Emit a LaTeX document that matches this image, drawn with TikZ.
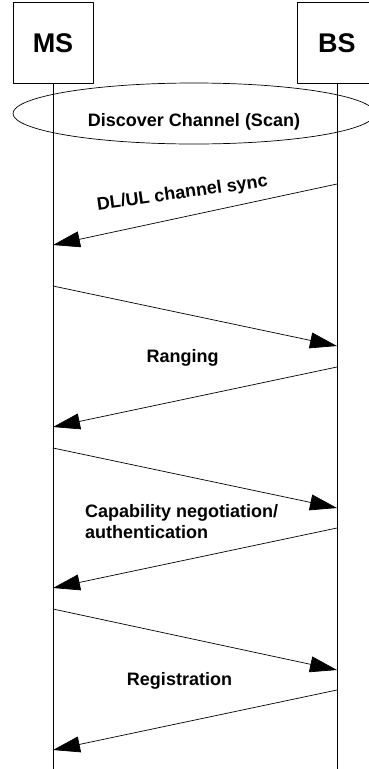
\documentclass[tikz,border=0pt]{standalone}
\usepackage{fontspec}
\setmainfont{Liberation Sans}
\usetikzlibrary{arrows.meta}

\begin{document}
\begin{tikzpicture}[line cap=round,line join=round,x=1pt,y=-1pt,
    msg/.style={line width=0.7pt,-{Triangle[length=27pt,width=16pt]}},
    lbl/.style={font=\fontsize{18}{20.5}\selectfont\bfseries,inner sep=0pt}]
    \useasboundingbox (0,0) rectangle (368,769);
    % the two stations
    \node[draw,line width=0.7pt,minimum width=80pt,minimum height=80.5pt,
        font=\fontsize{27}{30}\selectfont\bfseries] (ms) at (53,42.75) {MS};
    \node[draw,line width=0.7pt,minimum width=80pt,minimum height=80.5pt,
        font=\fontsize{27}{30}\selectfont\bfseries] (bs) at (337,42.75) {BS};
    \coordinate (msend) at (53,769);
    \coordinate (bsend) at (337,769);
    \draw [line width=0.7pt] (ms.south) -- (msend);
    \draw [line width=0.7pt] (bs.south) -- (bsend);
    % scan phase
    \draw [line width=0.7pt] (194,113.5) ellipse (181 and 30.5);
    \node[lbl,anchor=base] (scan) at (194,126) {Discover Channel (Scan)};
    % points on the MS line
    \coordinate (a1) at (53,245);
    \coordinate (a2) at (53,286);
    \coordinate (a3) at (53,427);
    \coordinate (a4) at (53,448);
    \coordinate (a5) at (53,588);
    \coordinate (a6) at (53,609);
    \coordinate (a7) at (53,750);
    % points on the BS line
    \coordinate (b1) at (337,184);
    \coordinate (b2) at (337,346);
    \coordinate (b3) at (337,367);
    \coordinate (b4) at (337,508);
    \coordinate (b5) at (337,528);
    \coordinate (b6) at (337,670);
    \coordinate (b7) at (337,690);
    % messages
    \draw [msg] (b1) -- (a1);
    \draw [msg] (a2) -- (b2);
    \draw [msg] (b3) -- (a3);
    \draw [msg] (a4) -- (b4);
    \draw [msg] (b5) -- (a5);
    \draw [msg] (a6) -- (b6);
    \draw [msg] (b7) -- (a7);
    % labels
    \node[lbl,anchor=base,rotate=8] (sync) at (183,198.3) {DL/UL channel sync};
    \node[lbl,anchor=base] (ranging) at (182.5,362.7) {Ranging};
    \node[lbl,anchor=north west,align=left] (capab) at (85,504.5) {Capability negotiation/\\authentication};
    \node[lbl,anchor=base] (regist) at (179.5,685) {Registration};
\end{tikzpicture}
\end{document}
